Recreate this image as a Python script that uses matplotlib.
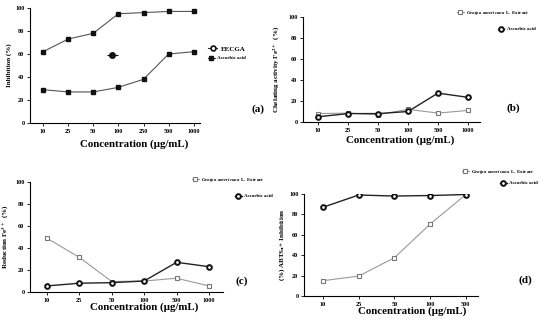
import matplotlib.pyplot as plt
from matplotlib.lines import Line2D

plt.rcParams['font.family'] = ['Liberation Serif', 'DejaVu Serif']
plt.rcParams['font.weight'] = 'bold'
plt.rcParams['mathtext.fontset'] = 'stix'

# panel (a)
conc_a = ["10", "25", "50", "100", "250", "500", "1000"]
eecga = [62, 73, 78, 95, 96, 97, 97]
ascorbic_a = [29, 27, 27, 31, 38, 60, 62]
stray_x = [2.75]
stray_y = [59]

# panel (b)
conc_b = ["10", "25", "50", "100", "500", "1000"]
genipa_b = [8, 8.5, 7, 12, 8.5, 11]
ascorbic_b = [5, 8, 8, 10, 27.5, 23.5]

# panel (c)
conc_c = ["10", "25", "50", "100", "500", "1000"]
genipa_c = [49, 31.5, 9.5, 10, 12.5, 5.5]
ascorbic_c = [5.5, 8, 8.5, 10, 27, 23]

# panel (d)
conc_d = ["10", "25", "50", "100", "500"]
genipa_d = [15, 19.5, 37.5, 70.5, 99.5]
ascorbic_d = [87, 99, 98, 98.5, 99.5]

W, H = 550, 323
fig = plt.figure(figsize=(5.5, 3.23), dpi=100)


def add_ax(l, r, b, t):
    return fig.add_axes([l / W, 1 - b / H, (r - l) / W, (b - t) / H])


def style(ax, labels, xlim, ylabel, xl_x, xl_y, yl_x):
    ax.set_xticks(range(len(labels)))
    ax.set_xticklabels(labels)
    ax.set_xlim(*xlim)
    ax.set_ylim(0, 100)
    ax.set_yticks([0, 20, 40, 60, 80, 100])
    for s in ["top", "right"]:
        ax.spines[s].set_visible(False)
    for s in ["left", "bottom"]:
        ax.spines[s].set_linewidth(0.8)
    ax.tick_params(labelsize=4.5, length=2, width=0.6, pad=2)
    ax.set_xlabel("Concentration (µg/mL)", fontsize=7.8, fontweight="bold")
    ax.xaxis.set_label_coords(xl_x, xl_y)
    ax.set_ylabel(ylabel, fontsize=5, fontweight="bold")
    ax.yaxis.set_label_coords(yl_x, 0.5)


sq_open = dict(marker="s", mfc="white", mec="#777777", ms=3.2, mew=0.8)
circ = dict(marker="o", mfc="white", mec="#111111", ms=3.4, mew=1.4)


def leg(handle, text, x, y, size=3.6):
    fig.legend([handle], [text], loc="center left",
               bbox_to_anchor=(x / W, 1 - y / H), frameon=False,
               handlelength=1.3, handletextpad=0.5, borderpad=0,
               borderaxespad=0, prop=dict(size=size, weight="bold"))


genipa_txt = "$\\mathit{Genipa\\ americana}$ L. Extract"

# (a)
ax = add_ax(30, 200, 123, 8)
ax.plot(range(len(conc_a)), eecga, color="#555555", lw=0.8, marker="s", ms=3, mfc="#111111", mec="#111111")
ax.plot(range(len(conc_a)), ascorbic_a, color="#555555", lw=0.8, marker="s", ms=3, mfc="#111111", mec="#111111")
ax.errorbar(stray_x, stray_y, xerr=0.22, fmt="o", color="#111111", ms=4, elinewidth=0.8, capsize=0)
style(ax, conc_a, (-0.52, 6.25), "Inhibition (%)", 0.61, -0.14, -0.105)
leg(Line2D([], [], color="#333333", lw=0.8, marker="o", mfc="white", mec="#111111", ms=3.5, mew=1.2),
    "EECGA", 208, 49, size=5)
leg(Line2D([], [], color="#333333", lw=0.8, marker="s", mfc="#111111", mec="#111111", ms=3),
    "Ascorbic acid", 208, 58, size=3.6)
fig.text(258 / W, 1 - 109 / H, "(a)", fontsize=8, fontweight="bold", ha="center", va="center")

# (b)
ax = add_ax(303, 480, 122, 17)
ax.plot(range(len(conc_b)), genipa_b, color="#999999", lw=0.8, **sq_open)
ax.plot(range(len(conc_b)), ascorbic_b, color="#222222", lw=1.0, **circ)
style(ax, conc_b, (-0.5, 5.4), "Chelating activity Fe$^{2+}$  (%)", 0.55, -0.13, -0.12)
leg(Line2D([], [], color="#999999", lw=0.8, **sq_open), genipa_txt, 457, 13)
leg(Line2D([], [], color="#222222", lw=1.0, **circ), "Ascorbic acid", 498, 29)
fig.text(513 / W, 1 - 108 / H, "(b)", fontsize=8, fontweight="bold", ha="center", va="center")

# (c)
ax = add_ax(30, 223, 292, 182)
ax.plot(range(len(conc_c)), genipa_c, color="#999999", lw=0.8, **sq_open)
ax.plot(range(len(conc_c)), ascorbic_c, color="#222222", lw=1.0, **circ)
style(ax, conc_c, (-0.52, 5.43), "Reduction Fe$^{3+}$  (%)", 0.59, -0.09, -0.1)
leg(Line2D([], [], color="#999999", lw=0.8, **sq_open), genipa_txt, 192, 180)
leg(Line2D([], [], color="#222222", lw=1.0, **circ), "Ascorbic acid", 235, 196)
fig.text(242 / W, 1 - 281 / H, "(c)", fontsize=8, fontweight="bold", ha="center", va="center")

# (d)
ax = add_ax(304, 478, 296, 194)
ax.plot(range(len(conc_d)), genipa_d, color="#999999", lw=0.8, **sq_open)
ax.plot(range(len(conc_d)), ascorbic_d, color="#222222", lw=1.0, **circ)
style(ax, conc_d, (-0.53, 4.34), "(%) ABTS$_{\\bullet}$+ Inhibition", 0.62, -0.1, -0.1)
leg(Line2D([], [], color="#999999", lw=0.8, **sq_open), genipa_txt, 462, 172)
leg(Line2D([], [], color="#222222", lw=1.0, **circ), "Ascorbic acid", 500, 183)
fig.text(525 / W, 1 - 280 / H, "(d)", fontsize=8, fontweight="bold", ha="center", va="center")

fig.savefig("out.png", dpi=100)
